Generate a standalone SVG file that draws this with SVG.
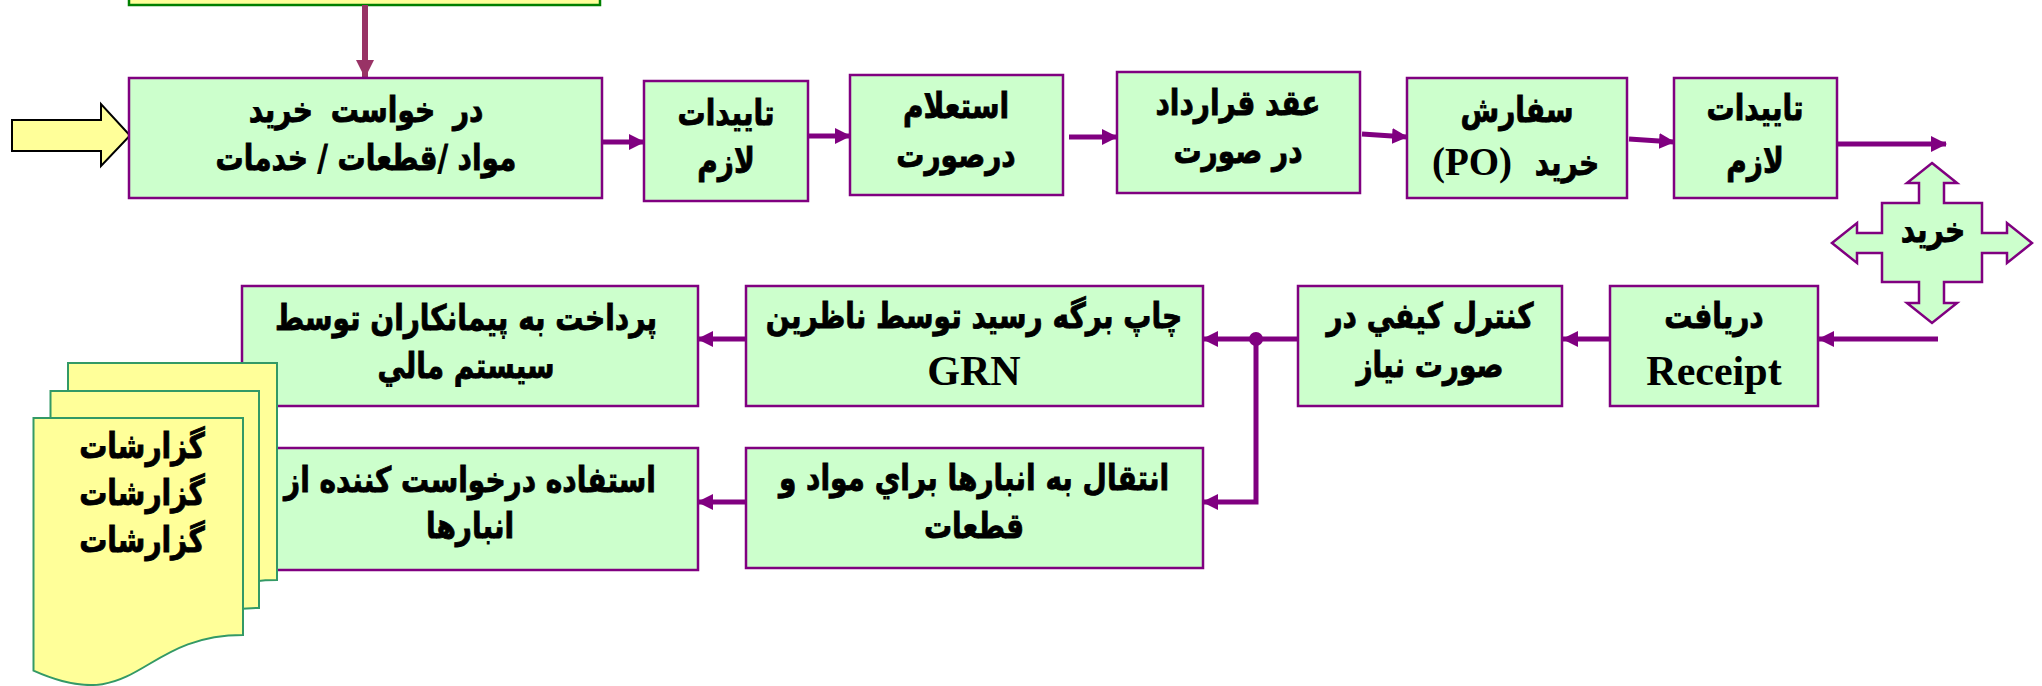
<svg xmlns="http://www.w3.org/2000/svg" width="2042" height="686" viewBox="0 0 2042 686">
<style>
.box{fill:#CCFFCC;stroke:#800080;stroke-width:2.5}
.ar{font-family:"DejaVu Sans","Noto Sans",sans-serif;font-weight:bold;font-size:28px;fill:#000;stroke:#000;stroke-width:0.7px;text-anchor:middle}
.la{font-family:"Liberation Serif","Times New Roman",serif;font-weight:bold;font-size:42px;fill:#000;text-anchor:middle}
.con{fill:none;stroke:#800080;stroke-width:5}
.doc{fill:#FFFF99;stroke:#339966;stroke-width:2}
</style>
<defs>
<marker id="ah" markerUnits="userSpaceOnUse" markerWidth="16" markerHeight="16" refX="15" refY="8" orient="auto">
<path d="M0,0 L16,8 L0,16 Z" fill="#800080"/>
</marker>
<marker id="ahm" markerUnits="userSpaceOnUse" markerWidth="20" markerHeight="20" refX="17" refY="9" orient="auto">
<path d="M0,0 L18,9 L0,18 Z" fill="#993366"/>
</marker>
</defs>

<g id="top-box">
<rect x="129" y="-50" width="471" height="55" fill="#FFFF99" stroke="#008000" stroke-width="2.5"/>
</g>

<g id="input-arrow">
<path d="M12,120 H101 V104 L130,135.5 L101,166 V151 H12 Z" fill="#FFFF99" stroke="#000" stroke-width="2"/>
</g>

<g id="connectors">
<line x1="365" y1="5" x2="365" y2="77" stroke="#993366" stroke-width="6" marker-end="url(#ahm)"/>
<line class="con" x1="602" y1="142" x2="644" y2="142" marker-end="url(#ah)"/>
<line class="con" x1="808" y1="136" x2="850" y2="136" marker-end="url(#ah)"/>
<line class="con" x1="1069" y1="137" x2="1117" y2="137" marker-end="url(#ah)"/>
<line class="con" x1="1362" y1="134" x2="1407" y2="137" marker-end="url(#ah)"/>
<line class="con" x1="1629" y1="139" x2="1674" y2="142" marker-end="url(#ah)"/>
<line class="con" x1="1837" y1="144" x2="1946" y2="144" marker-end="url(#ah)"/>
<line class="con" x1="1938" y1="339" x2="1819" y2="339" marker-end="url(#ah)"/>
<line class="con" x1="1610" y1="339" x2="1563" y2="339" marker-end="url(#ah)"/>
<line class="con" x1="1298" y1="339" x2="1203" y2="339" marker-end="url(#ah)"/>
<polyline class="con" points="1256,339 1256,502 1203,502" marker-end="url(#ah)"/>
<circle cx="1256" cy="339" r="7" fill="#800080"/>
<line class="con" x1="746" y1="339" x2="698" y2="339" marker-end="url(#ah)"/>
<line class="con" x1="746" y1="502" x2="698" y2="502" marker-end="url(#ah)"/>
</g>

<g id="n-request">
<rect class="box" x="129" y="78" width="473" height="120"/>
<text class="ar" transform="translate(366,122) scale(1,1.25)" style="word-spacing:8px">در خواست خريد</text>
<text class="ar" transform="translate(366,170) scale(1,1.25)">مواد /قطعات / خدمات</text>
</g>
<g id="n-approve1">
<rect class="box" x="644" y="81" width="164" height="120"/>
<text class="ar" transform="translate(726,125) scale(1,1.25)">تاييدات</text>
<text class="ar" transform="translate(726,173) scale(1,1.25)">لازم</text>
</g>
<g id="n-inquiry">
<rect class="box" x="850" y="75" width="213" height="120"/>
<text class="ar" transform="translate(956,118) scale(1,1.25)">استعلام</text>
<text class="ar" transform="translate(956,167) scale(1,1.25)">درصورت</text>
</g>
<g id="n-contract">
<rect class="box" x="1117" y="72" width="243" height="121"/>
<text class="ar" transform="translate(1238,115) scale(1,1.25)">عقد قرارداد</text>
<text class="ar" transform="translate(1238,163) scale(1,1.25)">در صورت</text>
</g>
<g id="n-po">
<rect class="box" x="1407" y="78" width="220" height="120"/>
<text class="ar" transform="translate(1517,122) scale(1,1.25)">سفارش</text>
<text class="ar" transform="translate(1567,175) scale(1,1.25)">خريد</text>
<text class="la" x="1472" y="175" style="font-size:39px">(PO)</text>
</g>
<g id="n-approve2">
<rect class="box" x="1674" y="78" width="163" height="120"/>
<text class="ar" transform="translate(1755,120) scale(1,1.25)">تاييدات</text>
<text class="ar" transform="translate(1755,173) scale(1,1.25)">لازم</text>
</g>
<g id="n-purchase">
<path class="box" d="M1932,163 L1957,183 H1944 V203 H1982 V233 H2007 V223 L2032,243 L2007,263 V253 H1982 V282 H1944 V303 H1957 L1932,323 L1907,303 H1919 V282 H1882 V253 H1857 V263 L1832,243 L1857,223 V233 H1882 V203 H1919 V183 H1907 Z"/>
<text class="ar" transform="translate(1933,242) scale(1,1.25)">خريد</text>
</g>
<g id="n-receipt">
<rect class="box" x="1610" y="286" width="208" height="120"/>
<text class="ar" transform="translate(1714,328) scale(1,1.25)">دريافت</text>
<text class="la" x="1714" y="385">Receipt</text>
</g>
<g id="n-qc">
<rect class="box" x="1298" y="286" width="264" height="120"/>
<text class="ar" transform="translate(1430,328) scale(1,1.25)">كنترل كيفي در</text>
<text class="ar" transform="translate(1430,377) scale(1,1.25)">صورت نياز</text>
</g>
<g id="n-grn">
<rect class="box" x="746" y="286" width="457" height="120"/>
<text class="ar" transform="translate(974,328) scale(1,1.25)">چاپ برگه رسيد توسط ناظرين</text>
<text class="la" x="974" y="385">GRN</text>
</g>
<g id="n-transfer">
<rect class="box" x="746" y="448" width="457" height="120"/>
<text class="ar" transform="translate(974,490) scale(1,1.25)">انتقال به انبارها براي مواد و</text>
<text class="ar" transform="translate(974,538) scale(1,1.25)">قطعات</text>
</g>
<g id="n-payment">
<rect class="box" x="242" y="286" width="456" height="120"/>
<text class="ar" transform="translate(466,330) scale(1,1.25)">پرداخت به پيمانكاران توسط</text>
<text class="ar" transform="translate(466,378) scale(1,1.25)">سيستم مالي</text>
</g>
<g id="n-usage">
<rect class="box" x="242" y="448" width="456" height="122"/>
<text class="ar" transform="translate(470,492) scale(1,1.25)">استفاده درخواست كننده از</text>
<text class="ar" transform="translate(470,538) scale(1,1.25)">انبارها</text>
</g>
<g id="n-reports">
<path class="doc" d="M68,363 H277 V580 C172.5,580 172.5,662.6 68,615.7 Z"/>
<path class="doc" d="M50.5,391 H259 V608 C154.75,608 154.75,690.6 50.5,643.7 Z"/>
<path class="doc" d="M33.5,418 H243 V635 C138.25,635 138.25,717.6 33.5,670.7 Z"/>
<text class="ar" transform="translate(142,458) scale(1,1.25)">گزارشات</text>
<text class="ar" transform="translate(142,505) scale(1,1.25)">گزارشات</text>
<text class="ar" transform="translate(142,552) scale(1,1.25)">گزارشات</text>
</g>
</svg>
